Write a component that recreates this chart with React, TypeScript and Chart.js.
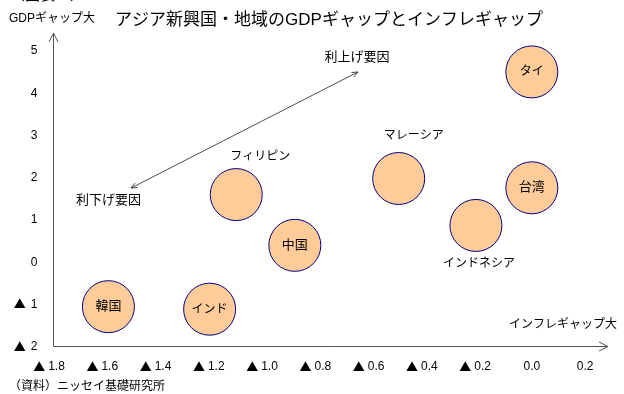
import React, { useEffect, useRef } from "react";
import { Chart, registerables } from "chart.js";

Chart.register(...registerables);

// ---- data ----
const countries = ["タイ", "台湾", "マレーシア", "インドネシア", "フィリピン", "中国", "韓国", "インド"];
const inflationGap = [0.0, 0.0, -0.5, -0.21, -1.11, -0.89, -1.59, -1.21];
const gdpGap = [4.48, 1.74, 1.96, 0.85, 1.58, 0.38, -1.07, -1.13];
const xTicks = [-1.8, -1.6, -1.4, -1.2, -1.0, -0.8, -0.6, -0.4, -0.2, 0.0, 0.2];
const yTicks = [-2, -1, 0, 1, 2, 3, 4, 5];

const titleText = "アジア新興国・地域のGDPギャップとインフレギャップ";
const figureText = "（図表３）";
const yAxisTitle = "GDPギャップ大";
const xAxisTitle = "インフレギャップ大";
const sourceText = "（資料）ニッセイ基礎研究所";
const hikeText = "利上げ要因";
const cutText = "利下げ要因";
// arrow between the two policy labels, in data units (inflation gap, GDP gap)
const policyArrowFrom = [-1.505, 1.735];
const policyArrowTo = [-0.653, 4.478];
const hikeLabelAt = [-0.657, 4.83];
const cutLabelAt = [-1.59, 1.43];

// where labels sit relative to their bubble (pixel offsets), others centered
const labelOffsets: Record<string, [number, number]> = {
  "マレーシア": [15, -43],
  "フィリピン": [24, -38],
  "インドネシア": [3, 38],
};

const FONT = '"Liberation Sans", "Noto Sans CJK JP", sans-serif';
const NUM_FONT = '12px "Liberation Sans", Arial, sans-serif';
const TRI_FONT = '12px "Noto Sans CJK JP", sans-serif';
const NEG = "▲";

function numText(v: number, digits: number) {
  return Math.abs(v).toFixed(digits);
}
function labelSize(s: string) {
  // kanji-only labels look a little larger in the reference
  return /^[\u4e00-\u9fff\u3041-\u309f]+$/.test(s) ? 13 : 12;
}

function arrowHead(ctx: CanvasRenderingContext2D, fx: number, fy: number, tx: number, ty: number, len: number, half: number) {
  const a = Math.atan2(ty - fy, tx - fx);
  const bx = tx - len * Math.cos(a);
  const by = ty - len * Math.sin(a);
  const px = -Math.sin(a) * half;
  const py = Math.cos(a) * half;
  ctx.beginPath();
  ctx.moveTo(bx + px, by + py);
  ctx.lineTo(tx, ty);
  ctx.lineTo(bx - px, by - py);
  ctx.stroke();
}

const decorPlugin = {
  id: "decor",
  beforeDatasetsDraw(chart: any) {
    const ctx: CanvasRenderingContext2D = chart.ctx;
    const { left, right, top, bottom } = chart.chartArea;
    const xs = chart.scales.x;
    const ys = chart.scales.y;
    ctx.save();
    ctx.strokeStyle = "#555";
    ctx.lineWidth = 1;
    const lx = Math.round(left) + 0.5;
    const by = Math.round(bottom) + 0.5;
    ctx.beginPath();
    ctx.moveTo(lx, by);
    ctx.lineTo(lx, top);
    ctx.moveTo(lx, by);
    ctx.lineTo(right, by);
    ctx.stroke();
    arrowHead(ctx, lx, by, lx, top, 9, 4.5);
    arrowHead(ctx, lx, by, right, by, 9, 4.5);

    // tick labels
    ctx.fillStyle = "#000";
    ctx.textBaseline = "middle";
    ctx.textAlign = "left";
    const gapX = 3;
    xTicks.forEach((v) => {
      const px = xs.getPixelForValue(v);
      const t = numText(v, 1);
      ctx.font = NUM_FONT;
      const nw = ctx.measureText(t).width;
      const ly = bottom + 21;
      if (v < -1e-9) {
        ctx.font = TRI_FONT;
        const tw = ctx.measureText(NEG).width;
        const start = px - 3.5 - (tw + gapX + nw) / 2;
        ctx.fillText(NEG, start, ly);
        ctx.font = NUM_FONT;
        ctx.fillText(t, start + tw + gapX, ly);
      } else {
        ctx.fillText(t, px - nw / 2, ly);
      }
    });
    const yRight = left - 15;
    yTicks.forEach((v) => {
      const py = ys.getPixelForValue(v) + 1;
      const t = numText(v, 0);
      ctx.font = NUM_FONT;
      const nw = ctx.measureText(t).width;
      ctx.fillText(t, yRight - nw, py);
      if (v < 0) {
        ctx.font = TRI_FONT;
        const tw = ctx.measureText(NEG).width;
        ctx.fillText(NEG, yRight - nw - 5 - tw, py);
      }
    });

    // policy arrow
    const fx = xs.getPixelForValue(policyArrowFrom[0]);
    const fy = ys.getPixelForValue(policyArrowFrom[1]);
    const tx = xs.getPixelForValue(policyArrowTo[0]);
    const ty = ys.getPixelForValue(policyArrowTo[1]);
    ctx.strokeStyle = "#222";
    ctx.lineWidth = 0.8;
    ctx.beginPath();
    ctx.moveTo(fx, fy);
    ctx.lineTo(tx, ty);
    ctx.stroke();
    arrowHead(ctx, tx, ty, fx, fy, 6, 2.5);
    arrowHead(ctx, fx, fy, tx, ty, 6, 2.5);

    ctx.fillStyle = "#000";
    ctx.font = "13px " + FONT;
    ctx.textAlign = "center";
    ctx.textBaseline = "middle";
    ctx.fillText(hikeText, xs.getPixelForValue(hikeLabelAt[0]), ys.getPixelForValue(hikeLabelAt[1]));
    ctx.fillText(cutText, xs.getPixelForValue(cutLabelAt[0]), ys.getPixelForValue(cutLabelAt[1]));

    // titles
    ctx.font = "17px " + FONT;
    ctx.textAlign = "center";
    ctx.fillText(titleText, 329, 20);
    ctx.font = "15px " + FONT;
    ctx.textAlign = "left";
    ctx.textBaseline = "alphabetic";
    ctx.fillText(figureText, 10, 0);
    ctx.font = "12px " + FONT;
    ctx.textBaseline = "middle";
    ctx.fillText(yAxisTitle, 9, 19);
    ctx.fillText(sourceText, 9, 387);
    ctx.textAlign = "right";
    ctx.fillText(xAxisTitle, 617, 325);
    ctx.restore();
  },
  afterDatasetsDraw(chart: any) {
    const ctx: CanvasRenderingContext2D = chart.ctx;
    const meta = chart.getDatasetMeta(0);
    ctx.save();
    ctx.fillStyle = "#000";
    ctx.textAlign = "center";
    ctx.textBaseline = "middle";
    meta.data.forEach((el: any, i: number) => {
      const name = countries[i];
      const off = labelOffsets[name] || [0, 0];
      ctx.font = labelSize(name) + "px " + FONT;
      ctx.fillText(name, el.x + off[0], el.y + off[1]);
    });
    ctx.restore();
  },
};

export default function App() {
  const ref = useRef<HTMLCanvasElement>(null);
  useEffect(() => {
    if (!ref.current) return;
    const chart = new Chart(ref.current, {
      type: "bubble",
      data: {
        datasets: [
          {
            label: "GDPギャップとインフレギャップ",
            data: countries.map((_, i) => ({ x: inflationGap[i], y: gdpGap[i] })),
            backgroundColor: "#FFCC99",
            borderColor: "#000080",
            borderWidth: 1,
            radius: 26,
            clip: false,
          } as any,
        ],
      },
      options: {
        animation: false,
        responsive: false,
        devicePixelRatio: 1,
        events: [],
        layout: { autoPadding: false, padding: { top: 33, right: 16, bottom: 0, left: 0 } },
        plugins: { legend: { display: false }, tooltip: { enabled: false }, title: { display: false } },
        scales: {
          x: {
            type: "linear",
            min: -1.8,
            max: 0.286,
            grid: { display: false, drawTicks: false },
            border: { display: false },
            afterBuildTicks: (axis: any) => {
              axis.ticks = xTicks.map((v) => ({ value: v }));
            },
            afterFit: (scale: any) => {
              scale.height = 48;
              scale.paddingLeft = 0;
              scale.paddingRight = 0;
            },
            ticks: { display: false },
          },
          y: {
            type: "linear",
            min: -2,
            max: 5.4,
            grid: { display: false, drawTicks: false },
            border: { display: false },
            afterBuildTicks: (axis: any) => {
              axis.ticks = yTicks.map((v) => ({ value: v }));
            },
            afterFit: (scale: any) => {
              scale.width = 52.5;
              scale.paddingTop = 0;
              scale.paddingBottom = 0;
            },
            ticks: { display: false },
          },
        },
      } as any,
      plugins: [decorPlugin],
    });
    return () => chart.destroy();
  }, []);
  return (
    <div style={{ position: "fixed", left: 0, top: 0, width: 624, height: 394, background: "#fff" }}>
      <canvas ref={ref} width={624} height={394} style={{ display: "block" }} />
    </div>
  );
}
